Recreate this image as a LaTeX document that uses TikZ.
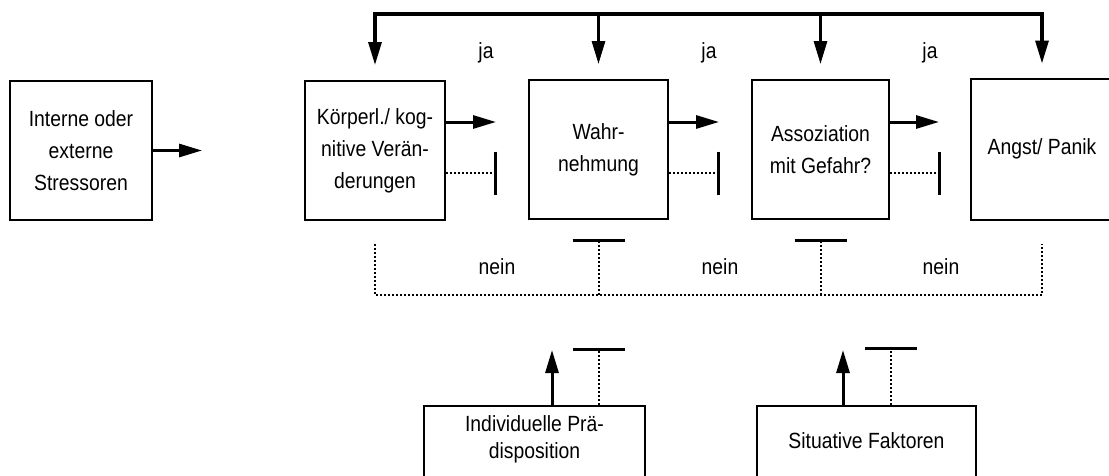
\documentclass[tikz,border=0pt]{standalone}
\usepackage{fontspec}
\setmainfont[FakeStretch=0.88]{Liberation Sans}
\usetikzlibrary{arrows.meta,calc}
\begin{document}
\begin{tikzpicture}[x=1pt,y=-1pt,
  box/.style={draw,line width=2pt,align=center,inner sep=0pt,font=\fontsize{22}{32}\selectfont},
  topbox/.style={box,minimum height=139pt},
  arr/.style={line width=3pt,-{Triangle[length=23pt,width=13pt]}},
  arrtwo/.style={line width=3.2pt,line join=miter,{Triangle[length=23pt,width=13pt]}-{Triangle[length=23pt,width=13pt]}},
  dot/.style={line width=2pt,dotted},
  inh/.style={dot,-{Bar[width=43pt,line width=3pt 0]}},
  inhh/.style={dot,-{Bar[width=52pt,line width=3pt 0]}},
  lab/.style={font=\fontsize{22}{25}\selectfont,inner sep=0pt}]
\useasboundingbox (0,0) rectangle (1109,475);
% main chain
\node[topbox,minimum width=142pt] (A) at (81,150.5) {Interne oder\\externe\\Stressoren};
\node[topbox,minimum width=140pt] (B) at (375,150.5) {Körperl./ kog-\\nitive Verän-\\derungen};
\node[topbox,minimum width=139pt] (C) at (598.5,149.5) {Wahr-\\nehmung};
\node[topbox,minimum width=137pt] (D) at (820.5,149.5) {Assoziation\\mit Gefahr?};
\node[topbox,draw=none,minimum width=170pt] (E) at (1057,149) {Angst/ Panik\hspace*{30pt}};
\draw[line width=2pt] (E.north east) -- (E.north west) -- (E.south west) -- (E.south east);
% lower boxes (cut by the lower edge)
\node[box,anchor=north,minimum width=221pt,font=\fontsize{22}{27}\selectfont] (F) at (534.5,405)
  {\rule{0pt}{25.5pt}Individuelle Prä-\\disposition\rule[-32pt]{0pt}{0pt}};
\node[box,anchor=north,minimum width=219pt] (G) at (866.5,405)
  {\rule{0pt}{42.5pt}Situative Faktoren\rule[-42pt]{0pt}{0pt}};
% helper coordinates
\coordinate (top) at (0,14);
\coordinate (ya) at (0,122);
\coordinate (yd) at (0,173);
\coordinate (ybase) at (0,295);
\coordinate (HB) at (B.north |- top);
\coordinate (HC) at (C.north |- top);
\coordinate (HD) at (D.north |- top);
\coordinate (HE) at (1042,14);
\coordinate (cB) at (B.south |- ybase);
\coordinate (cC) at (C.south |- ybase);
\coordinate (cD) at (D.south |- ybase);
\coordinate (cE) at (HE |- ybase);
\coordinate (tF) at (552,350);
\coordinate (bF) at (598.5,348);
\coordinate (tG) at (843,350);
\coordinate (bG) at (891,347);
% "ja" feedback line
\draw[arrtwo,shorten <=15pt,shorten >=15pt] (B.north) -- (HB) -- (HE) -- (HE |- E.north);
\draw[arr,shorten >=15pt] (HC) -- (C.north);
\draw[arr,shorten >=15pt] (HD) -- (D.north);
% forward arrows
\draw[arr,shorten >=102pt] (A.east) -- (B.west);
\draw[arr,shorten >=32pt] (B.east |- ya) -- (C.west |- ya);
\draw[arr,shorten >=32pt] (C.east |- ya) -- (D.west |- ya);
\draw[arr,shorten >=32pt] (D.east |- ya) -- (E.west |- ya);
% inhibitions
\draw[inh,shorten >=31pt] (B.east |- yd) -- (C.west |- yd);
\draw[inh,shorten >=31pt] (C.east |- yd) -- (D.west |- yd);
\draw[inh,shorten >=30pt] (D.east |- yd) -- (E.west |- yd);
% "nein" line
\draw[dot,shorten <=23pt,shorten >=24pt] (B.south) -- (cB) -- (cE) -- (HE |- E.south);
\draw[inhh,shorten >=19pt] (cC) -- (C.south);
\draw[inhh,shorten >=19pt] (cD) -- (D.south);
% lower influences
\draw[arr] (F.north -| tF) -- (tF);
\draw[inhh] (F.north -| bF) -- (bF);
\draw[arr] (G.north -| tG) -- (tG);
\draw[inhh] (G.north -| bG) -- (bG);
% labels
\node[lab] (ja1) at (486,53) {ja};
\node[lab] (ja2) at (709,53) {ja};
\node[lab] (ja3) at (930,53) {ja};
\node[lab] (n1) at (497,267) {nein};
\node[lab] (n2) at (720,267) {nein};
\node[lab] (n3) at (941,267) {nein};
\end{tikzpicture}
\end{document}
